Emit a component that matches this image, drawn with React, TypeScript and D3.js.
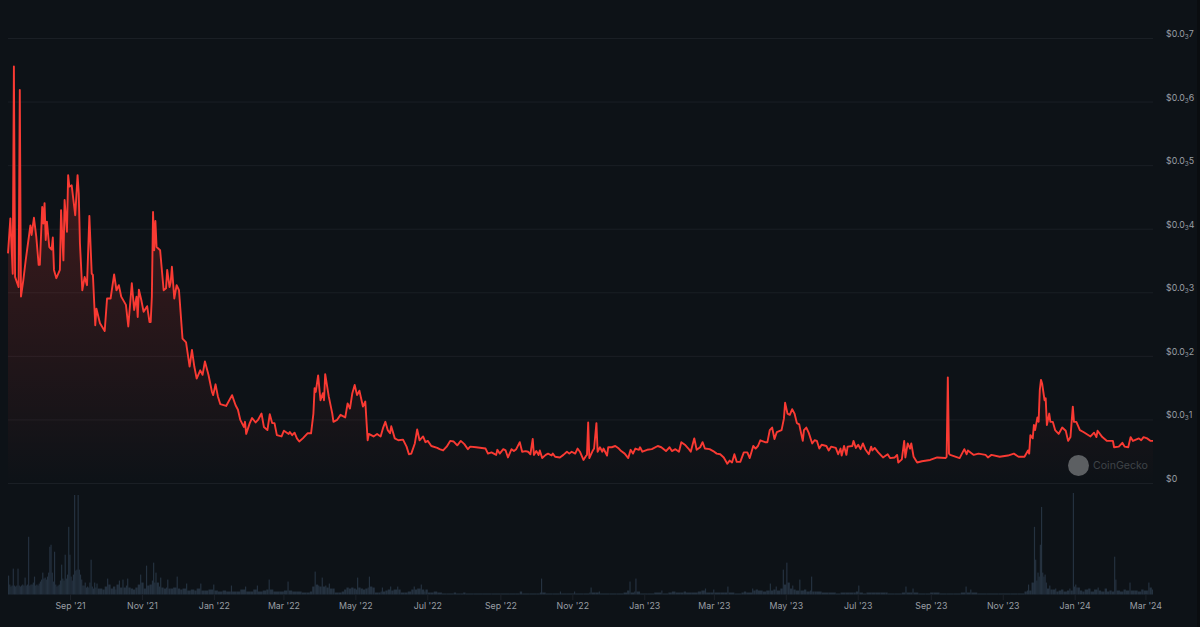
import React from 'react';
import * as d3 from 'd3';

// days counted from the first day on the chart, price in units of $0.0001
const startDay = '2021-07-10';
const lastDay = 971;

const price2021 = [
  [0, 3.62], [2, 4.17], [4, 3.3], [5, 6.56], [6, 3.25], [9, 3.09], [10, 6.19], [11, 2.94], [13, 3.2], [15, 3.51],
  [19, 4.06], [20, 3.91], [22, 4.18], [24, 3.88], [26, 3.44], [27, 3.44], [29, 4.35], [30, 4.09], [31, 4.41], [32, 3.83],
  [33, 4.12], [35, 3.72], [37, 3.68], [38, 3.87], [39, 3.36], [41, 3.23], [44, 3.36], [45, 4.3], [47, 3.51], [48, 4.46],
  [50, 3.96], [51, 4.85], [52, 4.67], [54, 4.69], [57, 4.22], [59, 4.85], [60, 4.56], [61, 3.78], [63, 3.04], [65, 3.25],
  [67, 3.12], [69, 4.21], [71, 3.3], [72, 3.28], [74, 2.49], [75, 2.75], [78, 2.52], [82, 2.4], [84, 2.91], [87, 2.91],
  [90, 3.29], [92, 3.04], [94, 3.12], [96, 2.94], [100, 2.81], [102, 2.47], [105, 3.15], [107, 2.73], [109, 2.94], [110, 2.62],
  [111, 3.05], [113, 2.89], [115, 2.7], [118, 2.79], [120, 2.54], [121, 2.54], [122, 2.94], [123, 4.27], [124, 3.67], [125, 4.13],
  [126, 3.72], [129, 3.67], [131, 3.25], [132, 3.04], [134, 3.07], [135, 3.36], [137, 3.09], [138, 3.17], [139, 3.41], [141, 2.91],
  [143, 3.12], [145, 3.04], [148, 2.28], [151, 2.22], [154, 1.84], [156, 2.1], [158, 1.84], [160, 1.65], [163, 1.78], [165, 1.71],
  [167, 1.92], [170, 1.71], [173, 1.44], [174, 1.39],
];

const price2022 = [
  [176, 1.56], [178, 1.37], [180, 1.25], [185, 1.22], [190, 1.39], [193, 1.23], [195, 1.16], [197, 1.0], [200, 0.89], [201, 0.97],
  [202, 0.78], [205, 0.95], [207, 1.03], [210, 0.96], [212, 1.0], [215, 1.1], [217, 0.89], [220, 0.84], [222, 1.09], [224, 0.95],
  [226, 0.95], [228, 0.76], [232, 0.74], [234, 0.83], [238, 0.78], [239, 0.81], [241, 0.76], [243, 0.8], [245, 0.71], [247, 0.66],
  [250, 0.71], [254, 0.79], [257, 0.79], [259, 1.1], [260, 1.5], [261, 1.44], [263, 1.7], [265, 1.31], [267, 1.42], [268, 1.31],
  [269, 1.72], [272, 1.37], [275, 1.1], [276, 0.97], [279, 1.0], [282, 1.08], [286, 1.04], [288, 1.26], [290, 1.18], [292, 1.42],
  [294, 1.55], [296, 1.39], [298, 1.46], [301, 1.21], [303, 1.29], [305, 0.68], [306, 0.78], [310, 0.74], [313, 0.78], [316, 0.74],
  [318, 0.87], [320, 0.97], [322, 0.84], [324, 0.79], [325, 0.9], [328, 0.71], [331, 0.68], [335, 0.69], [338, 0.58], [340, 0.46],
  [342, 0.47], [345, 0.63], [347, 0.85], [349, 0.68], [352, 0.74], [354, 0.65], [356, 0.67], [359, 0.59], [364, 0.56], [366, 0.54],
  [369, 0.52], [372, 0.58], [375, 0.67], [378, 0.66], [381, 0.6], [384, 0.67], [387, 0.62], [390, 0.54], [392, 0.58], [397, 0.57],
  [405, 0.55], [407, 0.47], [410, 0.49], [414, 0.45], [415, 0.53], [417, 0.47], [420, 0.54], [422, 0.52], [424, 0.41], [427, 0.54],
  [429, 0.51], [431, 0.54], [434, 0.65], [436, 0.5], [439, 0.51], [441, 0.5], [443, 0.46], [445, 0.7], [446, 0.45], [448, 0.51],
  [450, 0.45], [451, 0.52], [453, 0.4], [456, 0.45], [458, 0.47], [461, 0.44], [462, 0.47], [464, 0.42], [468, 0.41], [471, 0.45],
  [474, 0.5], [476, 0.47], [478, 0.5], [481, 0.47], [483, 0.55], [485, 0.5], [488, 0.37], [490, 0.43], [491, 0.45], [492, 0.96],
  [493, 0.4], [496, 0.52], [497, 0.55], [499, 0.95], [500, 0.5], [502, 0.57], [504, 0.5], [505, 0.55], [508, 0.44], [509, 0.57],
  [512, 0.57], [515, 0.59], [518, 0.55], [520, 0.51], [523, 0.47], [526, 0.4], [528, 0.53], [530, 0.47], [532, 0.55], [535, 0.53],
  [536, 0.57], [538, 0.5],
];

const price2023 = [
  [542, 0.53], [546, 0.54], [551, 0.59], [554, 0.57], [558, 0.51], [561, 0.57], [563, 0.51], [566, 0.54], [569, 0.5], [571, 0.65],
  [574, 0.61], [577, 0.55], [579, 0.5], [582, 0.71], [584, 0.53], [587, 0.57], [589, 0.65], [591, 0.55], [595, 0.54], [598, 0.51],
  [601, 0.47], [604, 0.46], [607, 0.41], [610, 0.31], [612, 0.36], [614, 0.33], [616, 0.46], [618, 0.34], [621, 0.34], [624, 0.49],
  [627, 0.49], [629, 0.4], [632, 0.59], [634, 0.55], [636, 0.59], [638, 0.68], [642, 0.65], [644, 0.65], [646, 0.84], [648, 0.88],
  [650, 0.7], [652, 0.81], [656, 0.84], [658, 1.02], [659, 1.27], [661, 1.1], [663, 1.08], [665, 1.17], [667, 1.1], [669, 0.95],
  [671, 0.93], [672, 0.84], [674, 0.67], [675, 0.84], [677, 0.88], [679, 0.8], [682, 0.63], [684, 0.68], [686, 0.67], [688, 0.55],
  [690, 0.61], [694, 0.59], [696, 0.52], [698, 0.58], [702, 0.56], [704, 0.46], [706, 0.55], [707, 0.44], [709, 0.59], [711, 0.45],
  [712, 0.58], [716, 0.59], [717, 0.67], [719, 0.56], [721, 0.61], [723, 0.54], [725, 0.63], [727, 0.54], [730, 0.46], [732, 0.58],
  [733, 0.52], [735, 0.56], [738, 0.49], [742, 0.41], [746, 0.46], [748, 0.4], [752, 0.41], [754, 0.45], [755, 0.33], [758, 0.38],
  [760, 0.67], [761, 0.41], [763, 0.63], [765, 0.55], [766, 0.63], [768, 0.42], [771, 0.33], [775, 0.35], [782, 0.37], [788, 0.41],
  [795, 0.4], [796, 0.42], [797, 1.67], [798, 0.47], [799, 0.45], [807, 0.4], [811, 0.54], [813, 0.46], [814, 0.52], [819, 0.45],
  [823, 0.47], [829, 0.45], [831, 0.41], [834, 0.45], [841, 0.42], [848, 0.44], [853, 0.47], [857, 0.42], [862, 0.42], [865, 0.52],
  [866, 0.47], [867, 0.76], [869, 0.71], [870, 0.92], [871, 0.84], [873, 1.04], [874, 0.97], [875, 1.47], [876, 1.63], [877, 1.57],
  [879, 1.31], [880, 1.34], [881, 0.92], [883, 1.1], [884, 0.97], [886, 0.97], [888, 0.84], [891, 0.78], [894, 0.88], [897, 0.83],
  [899, 0.67], [901, 0.73], [903, 1.21], [904, 0.97],
];

const price2024 = [
  [906, 0.97], [909, 0.84], [912, 0.81], [918, 0.74], [921, 0.8], [923, 0.73], [924, 0.83], [928, 0.73], [932, 0.67], [937, 0.67],
  [938, 0.57], [942, 0.58], [945, 0.64], [947, 0.58], [950, 0.57], [952, 0.73], [954, 0.67], [959, 0.71], [961, 0.68], [963, 0.73],
  [966, 0.71], [969, 0.67], [971, 0.67],
];

// volume has no axis in the picture, so these are relative heights
const volume2021 = [
  [0, 19], [1, 10], [2, 8], [3, 9], [4, 26], [5, 9], [6, 8], [7, 9], [8, 26], [9, 9], [10, 8], [11, 9], [12, 10], [13, 9], [14, 17],
  [15, 9], [16, 10], [17, 58], [18, 9], [19, 10], [20, 10], [21, 12], [22, 18], [23, 9], [24, 10], [25, 9], [26, 11], [27, 13],
  [28, 15], [29, 22], [30, 16], [31, 17], [32, 15], [33, 18], [34, 22], [35, 48], [36, 50], [37, 22], [38, 13], [39, 43], [40, 10],
  [41, 8], [42, 9], [43, 10], [44, 14], [45, 30], [46, 16], [47, 14], [48, 40], [49, 16], [50, 20], [51, 68], [52, 40], [53, 18],
  [54, 14], [55, 20], [56, 100], [57, 24], [58, 25], [59, 100], [60, 25], [61, 20], [62, 15], [63, 9], [64, 9], [65, 12], [66, 7],
  [67, 8], [68, 7], [69, 12], [70, 35], [71, 8], [72, 6], [73, 12], [74, 7], [75, 11], [76, 6], [78, 6], [80, 5], [82, 8], [84, 16],
  [85, 10], [87, 6], [89, 8], [91, 5], [92, 10], [94, 14], [95, 7], [97, 15], [98, 7], [100, 9], [101, 16], [102, 7], [104, 6],
  [106, 5], [108, 7], [110, 10], [112, 20], [113, 12], [115, 6], [117, 29], [118, 9], [120, 10], [122, 14], [123, 32], [124, 12],
  [125, 22], [126, 12], [128, 8], [129, 17], [130, 7], [132, 6], [134, 7], [135, 15], [136, 6], [138, 6], [140, 7], [143, 18],
  [144, 6], [146, 5], [148, 6], [151, 11], [152, 4], [155, 5], [158, 4], [160, 6], [163, 11], [164, 4], [167, 4], [170, 5], [174, 10],
];

const volume2022 = [
  [175, 4], [178, 3], [182, 4], [185, 3], [189, 9], [190, 3], [194, 3], [197, 5], [201, 8], [202, 3], [206, 3], [208, 5], [211, 9],
  [212, 3], [216, 4], [219, 5], [221, 15], [222, 5], [225, 3], [230, 3], [234, 4], [237, 13], [238, 4], [241, 3], [245, 3], [249, 2],
  [253, 2], [256, 3], [258, 8], [260, 23], [261, 10], [263, 9], [264, 8], [266, 17], [267, 8], [269, 9], [270, 7], [272, 11], [273, 6],
  [275, 6], [277, 2], [280, 2], [283, 3], [285, 5], [287, 7], [289, 6], [291, 7], [293, 6], [295, 5], [296, 17], [297, 7], [299, 6],
  [301, 5], [303, 6], [305, 7], [306, 18], [307, 8], [309, 7], [311, 2], [314, 2], [316, 3], [317, 7], [318, 3], [320, 4], [322, 5],
  [324, 8], [325, 4], [327, 5], [330, 8], [331, 5], [333, 2], [336, 2], [339, 3], [342, 5], [344, 8], [345, 5], [347, 6], [350, 10],
  [351, 5], [353, 3], [354, 5], [356, 2], [358, 2], [361, 3], [364, 2], [368, 1], [372, 1], [378, 2], [380, 1], [384, 1], [386, 2],
  [388, 1], [395, 1], [402, 1], [410, 1], [418, 1], [425, 1], [430, 1], [434, 3], [436, 1], [442, 1], [448, 1], [451, 2], [452, 16],
  [453, 2], [456, 1], [462, 1], [468, 3], [469, 1], [474, 1], [480, 3], [481, 1], [488, 1], [493, 2], [494, 7], [495, 2], [498, 2],
  [501, 3], [502, 1], [510, 1], [516, 1], [522, 2], [525, 4], [527, 13], [528, 2], [531, 3], [532, 16], [533, 3],
];

const volume2023 = [
  [536, 1], [542, 1], [548, 2], [554, 4], [555, 1], [560, 2], [563, 3], [566, 2], [570, 2], [573, 3], [575, 2], [580, 2], [585, 3],
  [588, 4], [591, 6], [592, 2], [596, 2], [598, 5], [599, 2], [604, 2], [608, 2], [610, 8], [611, 2], [616, 1], [622, 2], [624, 3],
  [626, 2], [631, 6], [632, 4], [634, 5], [636, 4], [640, 3], [643, 4], [646, 11], [647, 4], [649, 5], [651, 8], [652, 4], [655, 6],
  [657, 25], [658, 10], [660, 32], [661, 12], [663, 6], [665, 9], [666, 5], [668, 4], [671, 15], [672, 4], [675, 5], [677, 3], [680, 4],
  [681, 18], [682, 3], [684, 3], [686, 3], [690, 2], [696, 2], [702, 1], [706, 2], [710, 2], [714, 2], [717, 2], [719, 3], [721, 9],
  [722, 2], [725, 1], [728, 2], [732, 2], [736, 2], [740, 2], [744, 2], [746, 1], [752, 1], [758, 2], [761, 8], [762, 2], [765, 2],
  [767, 6], [768, 2], [772, 1], [778, 1], [782, 2], [785, 2], [790, 1], [796, 1], [802, 1], [808, 2], [812, 8], [813, 2], [816, 5],
  [817, 2], [822, 1], [830, 1], [840, 1], [850, 1], [856, 1], [862, 3], [864, 4], [865, 10], [866, 4], [868, 12], [870, 68], [871, 35],
  [872, 14], [873, 22], [874, 18], [875, 50], [876, 88], [877, 22], [878, 18], [879, 20], [880, 12], [881, 6], [883, 9], [884, 5],
  [886, 5], [888, 6], [889, 3], [891, 4], [893, 5], [895, 3], [898, 4], [900, 6], [901, 4], [903, 102], [904, 8],
];

const volume2024 = [
  [905, 10], [906, 7], [907, 7], [909, 4], [911, 3], [913, 5], [916, 6], [918, 3], [921, 5], [924, 7], [925, 4], [927, 3], [930, 6],
  [932, 3], [934, 4], [936, 3], [938, 38], [939, 15], [940, 4], [943, 3], [946, 5], [948, 4], [951, 12], [952, 4], [955, 4], [958, 3],
  [961, 5], [963, 4], [966, 4], [967, 12], [968, 7], [970, 5],
];

const priceSeries = [...price2021, ...price2022, ...price2023, ...price2024];
const volumeSeries = [...volume2021, ...volume2022, ...volume2023, ...volume2024];

const yTicks = [0, 1, 2, 3, 4, 5, 6, 7];
const xTicks = [
  '2021-09-01', '2021-11-01', '2022-01-01', '2022-03-01', '2022-05-01', '2022-07-01', '2022-09-01', '2022-11-01',
  '2023-01-01', '2023-03-01', '2023-05-01', '2023-07-01', '2023-09-01', '2023-11-01', '2024-01-01', '2024-03-01',
];

const WIDTH = 1200;
const HEIGHT = 627;
const FONT = 'Inter, "Noto Sans", sans-serif';

const parseDay = d3.utcParse('%Y-%m-%d');
const first = parseDay(startDay) as Date;
const toDate = (day: number) => d3.utcDay.offset(first, day);
const tickFormat = d3.utcFormat("%b '%y");

const x = d3.scaleUtc().domain([first, toDate(lastDay)]).range([8, 1153]);
const y = d3.scaleLinear().domain([0, 7]).range([483.5, 38.5]);
const yVolume = d3.scaleLinear().domain([0, 102]).range([594.5, 493]);

const line = d3.line<number[]>()
  .x(d => x(toDate(d[0])))
  .y(d => y(d[1]));

const area = d3.area<number[]>()
  .x(d => x(toDate(d[0])))
  .y0(y(0))
  .y1(d => y(d[1]));

const App = () => (
  <svg
    width={WIDTH}
    height={HEIGHT}
    viewBox={`0 0 ${WIDTH} ${HEIGHT}`}
    style={{ position: 'absolute', left: 0, top: 0, background: '#0d1217', display: 'block' }}
  >
    <defs>
      <linearGradient id="priceFill" gradientUnits="userSpaceOnUse" x1="0" x2="0" y1={y(6.56)} y2={y(0)}>
        <stop offset="0" stopColor="#ff3b30" stopOpacity={0.28} />
        <stop offset="1" stopColor="#ff3b30" stopOpacity={0} />
      </linearGradient>
    </defs>

    <rect x={1197} y={0} width={3} height={HEIGHT} fill="#0a0d10" />

    {yTicks.map(t => (
      <line key={t} x1={8} x2={1153} y1={y(t)} y2={y(t)} stroke="#1a1f25" strokeWidth={1} />
    ))}

    <path d={area(priceSeries) as string} fill="url(#priceFill)" />

    {/* watermark sits under the line */}
    <circle cx={1078.5} cy={465.5} r={10.5} fill="#5c5f62" />
    <text x={1093} y={469} fontFamily={FONT} fontSize={10.6} fill="#3f4348">CoinGecko</text>

    <path d={line(priceSeries) as string} fill="none" stroke="#f93a33" strokeWidth={1.9} strokeLinejoin="round" />

    {volumeSeries.map((d, i) => {
      const next = volumeSeries[i + 1] ? volumeSeries[i + 1][0] : d[0] + 1;
      const left = x(toDate(d[0]));
      return (
        <rect
          key={d[0]}
          x={left}
          y={yVolume(d[1])}
          width={x(toDate(next)) - left}
          height={yVolume(0) - yVolume(d[1])}
          fill="#253240"
        />
      );
    })}

    {yTicks.map(t => (
      <text key={t} x={1166} y={y(t) - 1.5} fontFamily={FONT} fontSize={8.8} fill="#9a9fa5">
        {t === 0 ? '$0' : (
          <>
            $0.0<tspan fontSize={6.4} dy={2}>3</tspan><tspan dy={-2}>{t}</tspan>
          </>
        )}
      </text>
    ))}

    {xTicks.map(t => {
      const date = parseDay(t) as Date;
      return (
        <g key={t} transform={`translate(${x(date)},0)`}>
          <line y1={594} y2={600} stroke="#1c2128" />
          <text y={608.5} textAnchor="middle" fontFamily={FONT} fontSize={8.8} fill="#9a9fa5">{tickFormat(date)}</text>
        </g>
      );
    })}
  </svg>
);

export default App;
